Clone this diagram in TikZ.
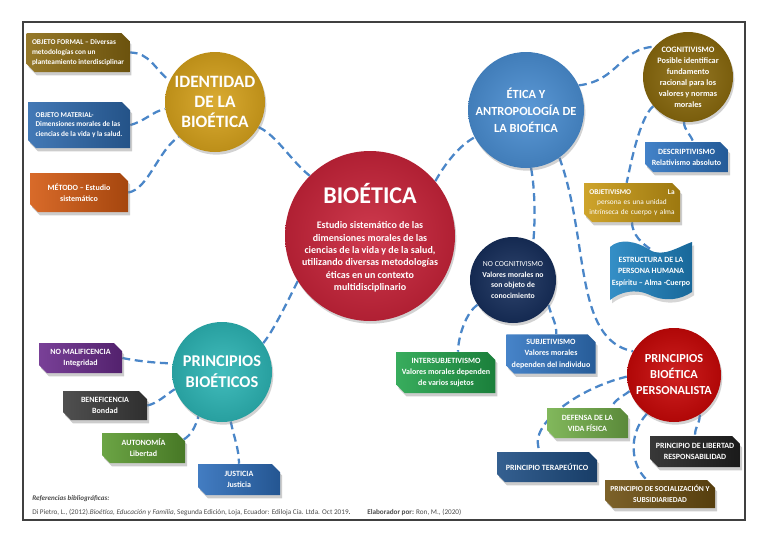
\documentclass[tikz,border=0pt]{standalone}
\usepackage{fontspec}
\setmainfont{Carlito}
\usetikzlibrary{shapes.misc,shadows}
\pgfdeclarelayer{bg}
\pgfsetlayers{bg,main}
\newcommand\myfs[2]{\fontsize{#1}{#2}\selectfont\bfseries}
\definecolor{conncol}{HTML}{4A86C8}
\definecolor{cId}{HTML}{D6A21C}
\definecolor{cBio}{HTML}{C8243A}
\definecolor{cEti}{HTML}{4A8ED2}
\definecolor{cCog}{HTML}{8A6A0E}
\definecolor{cNoc}{HTML}{172F5C}
\definecolor{cPb}{HTML}{2DB5B5}
\definecolor{cPbp}{HTML}{C80808}
\definecolor{bOf}{HTML}{8A6A12}
\definecolor{bOm}{HTML}{2E6AAE}
\definecolor{bMet}{HTML}{D45A12}
\definecolor{bNm}{HTML}{6A2B8C}
\definecolor{bBen}{HTML}{3C3C3C}
\definecolor{bAut}{HTML}{5B9A30}
\definecolor{bJus}{HTML}{2E6EBB}
\definecolor{bDes}{HTML}{2E74C2}
\definecolor{bObj}{HTML}{C99A14}
\definecolor{bEst}{HTML}{1E82C0}
\definecolor{bInt}{HTML}{22A34B}
\definecolor{bSub}{HTML}{3276C3}
\definecolor{bDef}{HTML}{74B04A}
\definecolor{bTer}{HTML}{1E4E84}
\definecolor{bLib}{HTML}{222222}
\definecolor{bSoc}{HTML}{6E5012}
\begin{document}
\begin{tikzpicture}[x=0.75pt,y=-0.75pt,
  conn/.style={draw=conncol, line width=1.7pt, dash pattern=on 6pt off 3.5pt},
  circ/.style={circle, inner sep=0pt, align=center, text=white,
    inner color=#1!90!white, outer color=#1!88!black,
    drop shadow={shadow xshift=1pt, shadow yshift=-2pt, opacity=.35}},
  bx/.style={chamfered rectangle, chamfered rectangle xsep=3pt, chamfered rectangle ysep=3pt,
    chamfered rectangle corners={north east,south west}, inner sep=1pt, align=center, text=white,
    font=\myfs{6}{8.3}, left color=#1!90!white, right color=#1!78!black,
    drop shadow={shadow xshift=1.5pt, shadow yshift=-2.5pt, opacity=.4}},
  txt/.style={inner sep=0pt, align=center, text=white}]
\useasboundingbox (0,0) rectangle (768,543);
\begin{pgfonlayer}{bg}
\fill[white] (0,0) rectangle (768,543);
\draw[black!75, line width=0.8pt] (23,22) rectangle (745,520);
\end{pgfonlayer}

% circles
\node[circ=cId, minimum size=75pt, font=\myfs{13}{15}] (id) at (215,102) {IDENTIDAD\\ DE LA\\ BIOÉTICA};
\node[circ=cBio, minimum size=127.5pt] (bio) at (370,236) {};
\node[txt, font=\myfs{18}{20}] (biot) at (370,194) {BIOÉTICA};
\node[txt, font=\myfs{7.5}{9.3}] (biob) at (370,257) {Estudio sistemático de las\\ dimensiones morales de las\\ ciencias de la vida y de la salud,\\ utilizando diversas metodologías\\ éticas en un contexto\\ multidisciplinario};
\node[circ=cEti, minimum size=87pt, font=\myfs{9.3}{12.7}] (eti) at (526,110) {ÉTICA Y\\ ANTROPOLOGÍA DE\\ LA BIOÉTICA};
\node[circ=cCog, minimum size=67.5pt, font=\myfs{6.2}{8.2}] (cog) at (688,77) {COGNITIVISMO\\ Posible identificar\\ fundamento\\ racional para los\\ valores y normas\\ morales};
\node[circ=cNoc, minimum size=64.5pt, font=\myfs{5.8}{8}] (nocog) at (513,280) {{\mdseries NO COGNITIVISMO}\\ Valores morales no\\ son objeto de\\ conocimiento};
\node[circ=cPb, minimum size=75pt, font=\myfs{12.3}{16}] (pb) at (222,372) {PRINCIPIOS\\ BIOÉTICOS};
\node[circ=cPbp, minimum size=70.5pt, font=\myfs{9.2}{12}] (pbp) at (674,375) {PRINCIPIOS\\ BIOÉTICA\\ PERSONALISTA};

% boxes
\node[bx=bOf, minimum width=75pt, minimum height=29.25pt, align=left, font=\myfs{5.5}{7.2}] (of) at (78,52.5) {OBJETO FORMAL – Diversas\\ metodologías con un\\ planteamiento interdisciplinar};
\node[bx=bOm, minimum width=76.5pt, minimum height=34.5pt, align=left, font=\myfs{5.5}{7.2}] (om) at (79,125) {OBJETO MATERIAL-\\ Dimensiones morales de las\\ ciencias de la vida y la salud.};
\node[bx=bMet, minimum width=73.5pt, minimum height=29.25pt] (met) at (79,192.5) {MÉTODO – Estudio\\ sistemático};
\node[bx=bNm, minimum width=62.25pt, minimum height=22.5pt] (nm) at (80.5,358) {NO MALIFICENCIA\\ Integridad};
\node[bx=bBen, minimum width=63pt, minimum height=21.75pt] (ben) at (105,405.5) {BENEFICENCIA\\ Bondad};
\node[bx=bAut, minimum width=62.25pt, minimum height=22.5pt] (aut) at (143.5,448) {AUTONOMÍA\\ Libertad};
\node[bx=bJus, minimum width=61.5pt, minimum height=23.25pt] (jus) at (239,479.5) {JUSTICIA\\ Justicia};
\node[bx=bDes, minimum width=62.25pt, minimum height=22.5pt] (des) at (686.5,157) {DESCRIPTIVISMO\\ Relativismo absoluto};
\node[bx=bObj, minimum width=69pt, minimum height=29.25pt, text width=64pt, font=\fontsize{5.5}{7.4}\selectfont] (obj) at (632,202.5) {\textbf{OBJETIVISMO}\hfill\textbf{La}\\ persona es una unidad\\ intrínseca de cuerpo y alma};
\node[bx=bInt, minimum width=73.5pt, minimum height=30.75pt] (inter) at (446,372.5) {INTERSUBJETIVISMO\\ Valores morales dependen\\ de varios sujetos};
\node[bx=bSub, minimum width=66pt, minimum height=28.5pt] (sub) at (551,354) {SUBJETIVISMO\\ Valores morales\\ dependen del individuo};
\node[bx=bDef, minimum width=60.75pt, minimum height=22.5pt] (def) at (587.5,423) {DEFENSA DE LA\\ VIDA FÍSICA};
\node[bx=bTer, minimum width=75pt, minimum height=22.5pt] (ter) at (547,467) {PRINCIPIO TERAPEÚTICO};
\node[bx=bLib, minimum width=67.5pt, minimum height=23.25pt] (lib) at (695,451.5) {PRINCIPIO DE LIBERTAD\\ RESPONSABILIDAD};
\node[bx=bSoc, minimum width=82.5pt, minimum height=21pt, font=\myfs{5.7}{8}] (soc) at (660,494) {PRINCIPIO DE SOCIALIZACIÓN Y\\ SUBSIDIARIEDAD};

% wavy banner
\fill[black!40, opacity=.4, xshift=1.5pt, yshift=-2.5pt] (610,247) .. controls (620,238) and (636,241) .. (650,250) .. controls (663,258) and (680,246) .. (692,242) -- (692,292) .. controls (680,300) and (665,302) .. (650,295) .. controls (635,288) and (620,292) .. (610,300) -- cycle;
\shade[left color=bEst!90!white, right color=bEst!80!black] (610,247) .. controls (620,238) and (636,241) .. (650,250) .. controls (663,258) and (680,246) .. (692,242) -- (692,292) .. controls (680,300) and (665,302) .. (650,295) .. controls (635,288) and (620,292) .. (610,300) -- cycle;
\node[txt, font=\myfs{6}{8.5}] (est) at (651,272) {ESTRUCTURA DE LA\\ PERSONA HUMANA\\ Espíritu – Alma -Cuerpo};
\coordinate (estT) at (652,250);

% footer
\node[anchor=base west, inner sep=0pt, text=black!70, font=\fontsize{5.3}{6}\selectfont\bfseries\itshape] (refs) at (32,500) {Referencias bibliográficas:};
\node[anchor=base west, inner sep=0pt, text=black!70, font=\fontsize{5.4}{6}\selectfont] (cit) at (32,514) {Di Pietro, L., (2012).\textit{Bioética, Educación y Familia}, Segunda Edición, Loja, Ecuador: Ediloja Cía. Ltda. Oct 2019\textbf{.}};
\node[anchor=base west, inner sep=0pt, text=black!70, font=\fontsize{5.4}{6}\selectfont] (elab) at (367,514) {\textbf{Elaborador por:} Ron, M., (2020)};

% connectors
\begin{pgfonlayer}{bg}
\draw[conn] (of.east) .. controls +(20,0) and +(-15,-12) .. (id.155);
\draw[conn] (om.east) .. controls +(15,-4) and +(-12,2) .. (id.188);
\draw[conn] (met.east) .. controls +(20,-3) and +(-20,12) .. (id.224);
\draw[conn] (id.-30) .. controls +(18,8) and +(-18,-14) .. (bio.135);
\draw[conn] (bio.40) .. controls +(10,-18) and +(-15,8) .. (eti.208);
\draw[conn] (bio.212) .. controls +(-10,20) and +(10,-12) .. (pb.35);
\draw[conn] (eti.25) .. controls +(40,-5) and +(-35,2) .. (cog.138);
\draw[conn] (cog.-95) .. controls +(0,8) and +(-3,-8) .. ([xshift=5pt]des.north);
\draw[conn] (cog.220) .. controls +(-14,12) and +(4,-18) .. ([xshift=-4pt]obj.north);
\draw[conn] (obj.south) .. controls +(0,12) and +(-10,-6) .. (estT);
\draw[conn] (eti.-85) .. controls +(4,22) and +(2,-22) .. (nocog.62);
\draw[conn] (eti.-55) .. controls +(30,82) and +(-60,-12) .. (pbp.150);
\draw[conn] (nocog.215) .. controls +(-12,8) and +(0,-14) .. ([xshift=9pt]inter.north);
\draw[conn] (nocog.-35) .. controls +(3,12) and +(0,-12) .. ([xshift=4pt]sub.north);
\draw[conn] (pbp.182) .. controls +(-50,12) and +(-15,-25) .. ([xshift=-5pt]ter.north);
\draw[conn] (pbp.200) .. controls +(-8,6) and +(3,-8) .. ([xshift=18pt]def.north);
\draw[conn] (pbp.235) .. controls +(-20,22) and +(-15,-14) .. ([xshift=-10pt]soc.north);
\draw[conn] (pbp.-57) .. controls +(0,10) and +(0,-10) .. (lib.north);
\draw[conn] (nm.east) .. controls +(15,3) and +(-15,0) .. (pb.170);
\draw[conn] (ben.east) .. controls +(10,-2) and +(-8,5) .. (pb.200);
\draw[conn] (aut.12) .. controls +(8,-5) and +(-3,10) .. (pb.242);
\draw[conn] (pb.-80) .. controls +(3,15) and +(0,-15) .. (jus.north);
\end{pgfonlayer}
\end{tikzpicture}
\end{document}
